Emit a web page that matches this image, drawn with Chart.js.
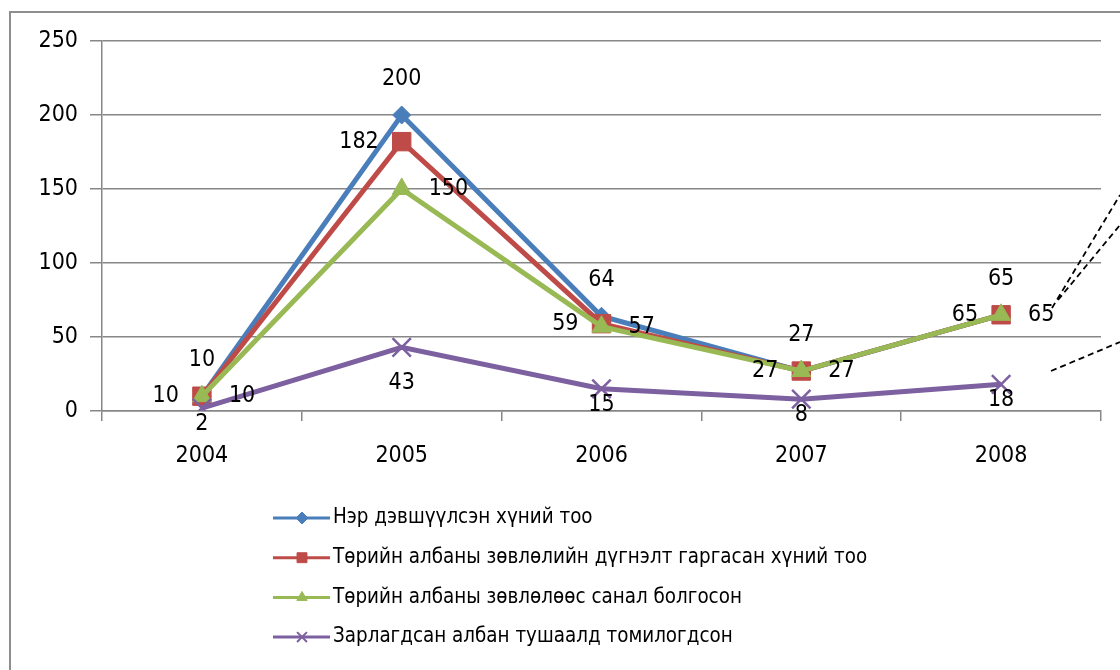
<!DOCTYPE html>
<html lang="mn">
<head>
<meta charset="UTF-8">
<title>Төрийн албаны зөвлөл 2004-2008</title>
<script src="https://cdn.jsdelivr.net/npm/chart.js"></script>
<style>
  body { margin: 0; background: #fff; overflow: hidden; }
  .frame { position: absolute; left: 9px; top: 11px; width: 1300px; height: 900px;
           border-left: 2px solid #8e8e8e; border-top: 2px solid #8e8e8e; }
  .chart-container { position: absolute; left: 0; top: 0; width: 1120px; height: 670px; }
</style>
</head>
<body>
<div class="frame"></div>
<div class="chart-container"><canvas id="line-chart"></canvas></div>

<script>
  const years = ['2004', '2005', '2006', '2007', '2008']
  const nominated = [10, 200, 64, 27, 65]
  const concluded = [10, 182, 59, 27, 65]
  const proposed = [10, 150, 57, 27, 65]
  const appointed = [2, 43, 15, 8, 18]
  const seriesNames = [
    'Нэр дэвшүүлсэн хүний тоо',
    'Төрийн албаны зөвлөлийн дүгнэлт гаргасан хүний тоо',
    'Төрийн албаны зөвлөлөөс санал болгосон',
    'Зарлагдсан албан тушаалд томилогдсон'
  ]
  const yTicks = [0, 50, 100, 150, 200, 250]

  const FONT = '"DejaVu Sans Condensed", "DejaVu Sans", sans-serif'
  const GRID = '#878787'

  function series(label, data, color, style, radius, pos, order) {
    return {
      label, data, order,
      borderColor: color, backgroundColor: color,
      pointBackgroundColor: color, pointBorderColor: color,
      borderWidth: 5, tension: 0, fill: false,
      pointStyle: style, pointRadius: radius,
      pointBorderWidth: style === 'crossRot' ? 2.5 : 1,
      labelPos: pos
    }
  }

  // value labels, placed like the excel ones (above / left / right / below)
  const pointLabels = {
    id: 'pointLabels',
    afterDatasetsDraw(chart) {
      const ctx = chart.ctx
      ctx.save()
      ctx.font = '23px ' + FONT
      ctx.fillStyle = '#000'
      ctx.textBaseline = 'middle'
      chart.data.datasets.forEach((ds, i) => {
        chart.getDatasetMeta(i).data.forEach((pt, j) => {
          let x = pt.x, y = pt.y
          const txt = String(ds.data[j])
          if (ds.labelPos === 'top') { ctx.textAlign = 'center'; y -= 36 }
          else if (ds.labelPos === 'left') { ctx.textAlign = 'right'; x -= 23 }
          else if (ds.labelPos === 'right') { ctx.textAlign = 'left'; x += 27 }
          else { ctx.textAlign = 'center'; y += (j === 1 ? 36 : 16) }
          ctx.fillText(txt, x, y)
        })
      })
      ctx.restore()
    }
  }

  // legend as a left-aligned column under the plot
  const columnLegend = {
    id: 'columnLegend',
    afterDraw(chart) {
      const ctx = chart.ctx
      ctx.save()
      chart.data.datasets.forEach((ds, i) => {
        const y = 518 + i * 39.7
        ctx.strokeStyle = ds.borderColor
        ctx.fillStyle = ds.borderColor
        ctx.lineWidth = 3
        ctx.beginPath()
        ctx.moveTo(273, y)
        ctx.lineTo(330, y)
        ctx.stroke()
        ctx.lineWidth = ds.pointStyle === 'crossRot' ? 2 : 1
        Chart.helpers.drawPoint(ctx, {
          pointStyle: ds.pointStyle, rotation: 0,
          radius: ds.pointStyle === 'crossRot' ? 7 : (ds.pointStyle === 'rect' ? 7 : 6),
          borderWidth: ctx.lineWidth
        }, 302, y)
        ctx.fillStyle = '#000'
        ctx.font = '20.4px ' + FONT
        ctx.textAlign = 'left'
        ctx.textBaseline = 'middle'
        ctx.fillText(ds.label, 333, y)
      })
      // dashed callout leaders on the right edge
      ctx.strokeStyle = '#000'
      ctx.lineWidth = 1.8
      ctx.setLineDash([6, 4])
      ctx.beginPath()
      ctx.moveTo(1052, 308); ctx.lineTo(1120, 195)
      ctx.moveTo(1058, 300); ctx.lineTo(1120, 225)
      ctx.moveTo(1051, 371); ctx.lineTo(1120, 342)
      ctx.stroke()
      ctx.restore()
    }
  }

  const ctx = document.getElementById('line-chart').getContext('2d')
  const chart = new Chart(ctx, {
    type: 'line',
    data: {
      labels: years,
      datasets: [
        series(seriesNames[0], nominated, '#4a7ebb', 'rectRot', 9, 'top', 4),
        series(seriesNames[1], concluded, '#be4b48', 'rect', 13, 'left', 3),
        series(seriesNames[2], proposed, '#98b954', 'triangle', 11, 'right', 2),
        series(seriesNames[3], appointed, '#7d60a0', 'crossRot', 13, 'bottom', 1)
      ]
    },
    options: {
      responsive: true,
      maintainAspectRatio: false,
      animation: false,
      layout: { padding: { top: 41, right: 19, bottom: 0, left: 0 } },
      plugins: { legend: { display: false }, tooltip: { enabled: false } },
      scales: {
        x: {
          offset: true,
          grid: { offset: true, drawOnChartArea: false, color: GRID, lineWidth: 1.5, tickLength: 10 },
          border: { color: GRID, width: 1.5 },
          ticks: { color: '#000', font: { size: 23, family: FONT }, padding: 21, maxRotation: 0 },
          afterFit(scale) { scale.height = 670 - 411 }
        },
        y: {
          min: 0, max: 250,
          afterBuildTicks(scale) { scale.ticks = yTicks.map(v => ({ value: v })) },
          grid: { color: GRID, lineWidth: 1.5, tickLength: 12 },
          border: { color: GRID, width: 1.5 },
          ticks: { color: '#000', font: { size: 23, family: FONT }, padding: 12 },
          afterFit(scale) { scale.width = 102 }
        }
      }
    },
    plugins: [pointLabels, columnLegend]
  })
</script>
</body>
</html>
